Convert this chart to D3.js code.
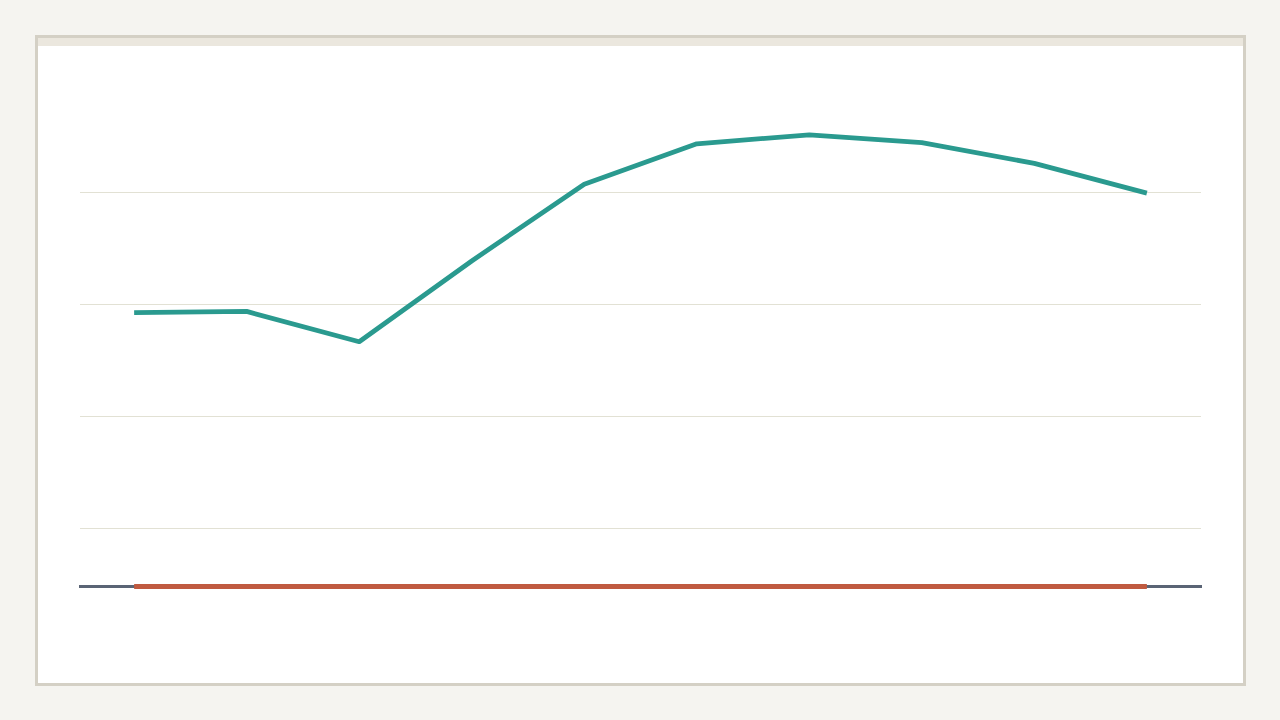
<!DOCTYPE html>
<html>
<head>
<meta charset="utf-8">
<script src="https://cdn.jsdelivr.net/npm/d3@7"></script>
<style>
  html, body { margin: 0; padding: 0; background: #f5f4f0; }
  svg { display: block; }
</style>
</head>
<body>
<svg></svg>
<script>
// data (no labels are shown on it)
const categories = ['c1', 'c2', 'c3', 'c4', 'c5', 'c6', 'c7', 'c8', 'c9', 'c10'];
const tealValues = [48.5, 48.7, 43.3, 57.7, 71.4, 78.6, 80.2, 78.8, 75.1, 69.8];
const redValues = [0, 0, 0, 0, 0, 0, 0, 0, 0, 0];
const gridTicks = [10, 30, 50, 70];

const width = 1280;
const height = 720;

const svg = d3.select('svg')
  .attr('width', width)
  .attr('height', height);

// card
svg.append('rect')
  .attr('x', 36.5).attr('y', 36.5)
  .attr('width', 1208).attr('height', 648)
  .attr('fill', '#ffffff')
  .attr('stroke', '#d4d0c5')
  .attr('stroke-width', 3);

svg.append('rect')
  .attr('x', 38).attr('y', 38)
  .attr('width', 1205).attr('height', 8)
  .attr('fill', '#ebe7de');

const x = d3.scalePoint()
  .domain(categories)
  .range([79, 1202])
  .padding(0.49);

const y = d3.scaleLinear()
  .domain([0, 70])
  .range([584.5, 192]);

// grid
svg.append('g')
  .selectAll('line')
  .data(gridTicks)
  .enter()
  .append('line')
  .attr('x1', 80)
  .attr('x2', 1201)
  .attr('y1', d => Math.round(y(d)) + 0.5)
  .attr('y2', d => Math.round(y(d)) + 0.5)
  .attr('stroke', '#e2e1d4')
  .attr('stroke-width', 1);

// zero line (drawn a little below the grid's zero)
svg.append('line')
  .attr('x1', 79)
  .attr('x2', 1202)
  .attr('y1', y(0) + 2)
  .attr('y2', y(0) + 2)
  .attr('stroke', '#5a6475')
  .attr('stroke-width', 3);

const line = d3.line()
  .x((d, i) => x(categories[i]))
  .y(d => y(d));

svg.append('path')
  .datum(redValues)
  .attr('d', line)
  .attr('transform', 'translate(0,2)')
  .attr('fill', 'none')
  .attr('stroke', '#c05a40')
  .attr('stroke-width', 5);

svg.append('path')
  .datum(tealValues)
  .attr('d', line)
  .attr('fill', 'none')
  .attr('stroke', '#2a9a8f')
  .attr('stroke-width', 4.8)
  .attr('stroke-linejoin', 'round');
</script>
</body>
</html>
